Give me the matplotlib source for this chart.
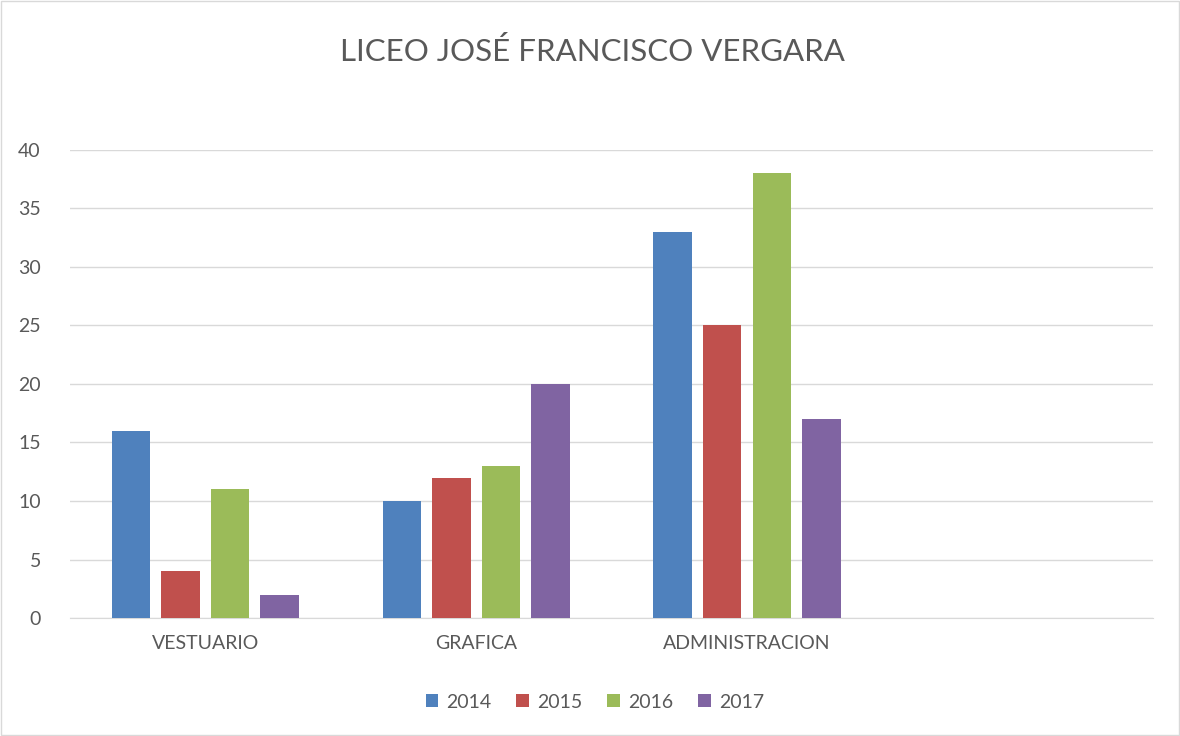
import numpy as np
import matplotlib
matplotlib.use("Agg")
import matplotlib.pyplot as plt
from matplotlib.patches import Rectangle

plt.rcParams['font.family'] = ['Lato', 'DejaVu Sans']

categories = ["VESTUARIO", "GRAFICA", "ADMINISTRACION", ""]
years = ["2014", "2015", "2016", "2017"]
v2014 = [16, 10, 33]
v2015 = [4, 12, 25]
v2016 = [11, 13, 38]
v2017 = [2, 20, 17]
colors = ["#4F81BD", "#C0504D", "#9BBB59", "#8064A2"]

text_col = "#595959"
grid_col = "#D9D9D9"

fig = plt.figure(figsize=(11.8, 7.36), dpi=100)
fig.patches.append(Rectangle((0.001, 0.001), 0.998, 0.998, transform=fig.transFigure,
                             fill=False, edgecolor="#D9D9D9", linewidth=1))
ax = fig.add_axes([0.0593, 0.1603, 0.918, 0.636])

step = 0.183
width = 0.142
x = np.arange(3)
series = [v2014, v2015, v2016, v2017]
for i, (vals, c, lab) in enumerate(zip(series, colors, years)):
    ax.bar(x + (i - 1.5) * step, vals, width, color=c, label=lab, zorder=3)

ax.set_xlim(-0.5, 3.5)
ax.set_ylim(0, 40)
ax.set_yticks(range(0, 41, 5))
ax.set_xticks(range(4))
ax.set_xticklabels(categories)
ax.grid(axis="y", color=grid_col, linewidth=1, zorder=0)
for s in ["top", "right", "left"]:
    ax.spines[s].set_visible(False)
ax.spines["bottom"].set_color(grid_col)
ax.tick_params(axis="both", length=0, labelsize=14, colors=text_col)
ax.tick_params(axis="y", pad=21)
ax.tick_params(axis="x", pad=12)

fig.text(0.502, 0.93, "LICEO JOSÉ FRANCISCO VERGARA", ha="center", va="center",
         fontsize=22.5, color=text_col)

fig.legend(loc="center", bbox_to_anchor=(0.504, 0.046), ncol=4, frameon=False,
           fontsize=14, handlelength=0.65, handleheight=0.65, handletextpad=0.4,
           columnspacing=1.3, labelcolor=text_col)

fig.savefig("out.png", dpi=100)
